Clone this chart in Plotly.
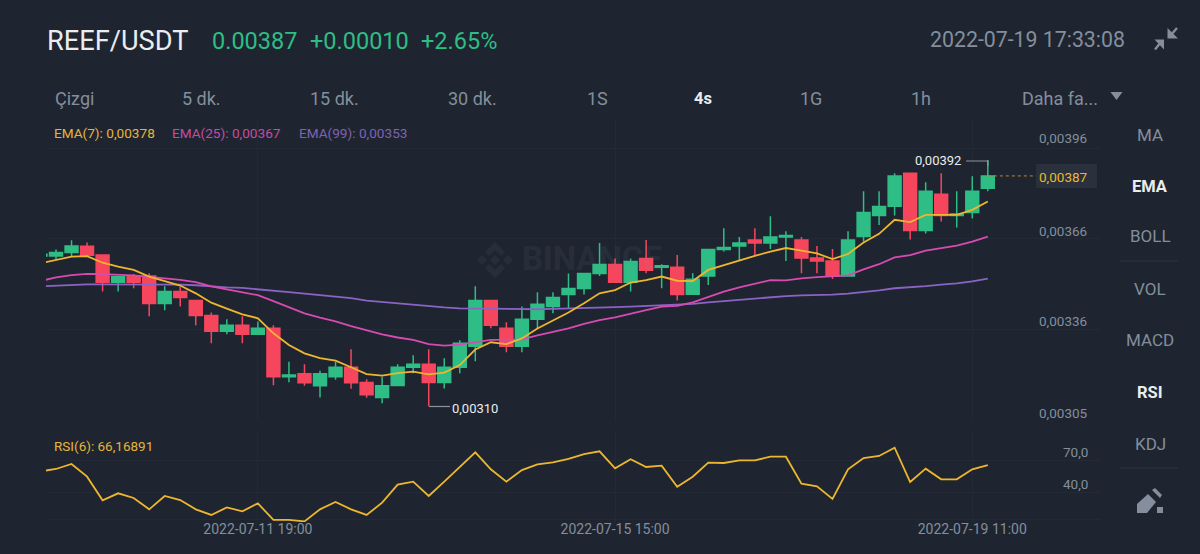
import pandas as pd
import plotly.graph_objects as go

BG = "#1e2530"
GRID = "#232a35"
GREEN = "#2ebd85"
RED = "#f6465d"
MUTED = "#848e9c"
FONT = "Roboto"
W, H = 1200, 554

# 4 hour candles, the first one is cut off by the left edge of the chart
times = pd.date_range("2022-07-09 11:00", periods=62, freq="4h")

opens = [
    0.003600, 0.003600, 0.003612, 0.003633, 0.003604, 0.003513, 0.003535, 0.003534, 0.003442, 0.003482,
    0.003452, 0.003402, 0.003350, 0.003370, 0.003340, 0.003360, 0.003198, 0.003208, 0.003168, 0.003198,
    0.003230, 0.003179, 0.003129, 0.003169, 0.003230, 0.003240, 0.003179, 0.003230, 0.003300, 0.003452,
    0.003360, 0.003300, 0.003390, 0.003432, 0.003472, 0.003492, 0.003542, 0.003572, 0.003513, 0.003592,
    0.003563, 0.003563, 0.003473, 0.003534, 0.003622, 0.003634, 0.003654, 0.003644, 0.003664, 0.003654,
    0.003594, 0.003584, 0.003534, 0.003665, 0.003735, 0.003766, 0.003876, 0.003685, 0.003806, 0.003735,
    0.003745, 0.003826,
]
highs = [
    0.003612, 0.003622, 0.003653, 0.003645, 0.003604, 0.003532, 0.003540, 0.003543, 0.003500, 0.003498,
    0.003452, 0.003412, 0.003390, 0.003400, 0.003382, 0.003370, 0.003248, 0.003240, 0.003218, 0.003248,
    0.003290, 0.003190, 0.003198, 0.003240, 0.003270, 0.003290, 0.003260, 0.003320, 0.003500, 0.003452,
    0.003380, 0.003432, 0.003480, 0.003480, 0.003542, 0.003542, 0.003644, 0.003592, 0.003592, 0.003654,
    0.003573, 0.003604, 0.003543, 0.003622, 0.003693, 0.003664, 0.003693, 0.003733, 0.003683, 0.003664,
    0.003634, 0.003624, 0.003683, 0.003816, 0.003816, 0.003876, 0.003876, 0.003846, 0.003876, 0.003816,
    0.003866, 0.003920,
]
lows = [
    0.003595, 0.003589, 0.003600, 0.003600, 0.003482, 0.003482, 0.003493, 0.003400, 0.003420, 0.003432,
    0.003370, 0.003310, 0.003340, 0.003310, 0.003340, 0.003170, 0.003180, 0.003168, 0.003129, 0.003188,
    0.003158, 0.003128, 0.003110, 0.003169, 0.003210, 0.003100, 0.003159, 0.003210, 0.003250, 0.003360,
    0.003280, 0.003280, 0.003360, 0.003410, 0.003426, 0.003472, 0.003534, 0.003513, 0.003482, 0.003543,
    0.003493, 0.003452, 0.003473, 0.003504, 0.003615, 0.003587, 0.003604, 0.003624, 0.003584, 0.003543,
    0.003543, 0.003524, 0.003534, 0.003648, 0.003704, 0.003735, 0.003655, 0.003675, 0.003715, 0.003695,
    0.003725, 0.003816,
]
closes = [
    0.003606, 0.003612, 0.003634, 0.003603, 0.003513, 0.003532, 0.003513, 0.003442, 0.003482, 0.003462,
    0.003402, 0.003350, 0.003370, 0.003340, 0.003360, 0.003198, 0.003204, 0.003178, 0.003208, 0.003230,
    0.003178, 0.003138, 0.003168, 0.003230, 0.003240, 0.003179, 0.003230, 0.003310, 0.003452, 0.003370,
    0.003300, 0.003390, 0.003440, 0.003462, 0.003492, 0.003542, 0.003572, 0.003513, 0.003582, 0.003553,
    0.003568, 0.003472, 0.003523, 0.003622, 0.003629, 0.003644, 0.003644, 0.003664, 0.003669, 0.003594,
    0.003584, 0.003534, 0.003654, 0.003745, 0.003765, 0.003867, 0.003685, 0.003816, 0.003735, 0.003740,
    0.003816, 0.003867,
]
ema7 = [
    0.003576, 0.003587, 0.003598, 0.003600, 0.003578, 0.003565, 0.003554, 0.003532, 0.003518, 0.003502,
    0.003476, 0.003445, 0.003425, 0.003406, 0.003393, 0.003343, 0.003304, 0.003276, 0.003260, 0.003252,
    0.003230, 0.003207, 0.003202, 0.003210, 0.003215, 0.003206, 0.003212, 0.003237, 0.003289, 0.003313,
    0.003307, 0.003326, 0.003359, 0.003385, 0.003412, 0.003443, 0.003476, 0.003487, 0.003512, 0.003520,
    0.003532, 0.003518, 0.003517, 0.003554, 0.003570, 0.003587, 0.003601, 0.003615, 0.003627, 0.003618,
    0.003609, 0.003590, 0.003607, 0.003645, 0.003674, 0.003721, 0.003713, 0.003737, 0.003737, 0.003737,
    0.003754, 0.003782,
]
ema25 = [
    0.003517, 0.003529, 0.003537, 0.003541, 0.003540, 0.003538, 0.003536, 0.003531, 0.003527, 0.003521,
    0.003513, 0.003499, 0.003489, 0.003479, 0.003470, 0.003450, 0.003429, 0.003409, 0.003395, 0.003383,
    0.003367, 0.003352, 0.003339, 0.003329, 0.003321, 0.003307, 0.003302, 0.003305, 0.003313, 0.003321,
    0.003321, 0.003323, 0.003336, 0.003347, 0.003359, 0.003374, 0.003387, 0.003396, 0.003409, 0.003420,
    0.003432, 0.003434, 0.003446, 0.003465, 0.003482, 0.003496, 0.003509, 0.003520, 0.003519, 0.003526,
    0.003530, 0.003534, 0.003536, 0.003556, 0.003573, 0.003596, 0.003603, 0.003618, 0.003626, 0.003635,
    0.003648, 0.003665,
]
ema99 = [
    0.003499, 0.003502, 0.003504, 0.003506, 0.003506, 0.003506, 0.003506, 0.003506, 0.003506, 0.003505,
    0.003503, 0.003499, 0.003496, 0.003494, 0.003490, 0.003486, 0.003480, 0.003475, 0.003470, 0.003466,
    0.003460, 0.003452, 0.003447, 0.003443, 0.003438, 0.003434, 0.003429, 0.003426, 0.003425, 0.003424,
    0.003423, 0.003423, 0.003423, 0.003424, 0.003425, 0.003426, 0.003429, 0.003430, 0.003432, 0.003434,
    0.003436, 0.003437, 0.003441, 0.003446, 0.003450, 0.003455, 0.003459, 0.003464, 0.003467, 0.003469,
    0.003470, 0.003472, 0.003475, 0.003480, 0.003486, 0.003493, 0.003496, 0.003500, 0.003505, 0.003509,
    0.003516, 0.003525,
]
rsi6 = [
    60.3, 62.5, 67.2, 55.3, 33.1, 39.7, 35.3, 24.7, 37.2, 33.4,
    24.7, 19.4, 26.5, 22.8, 30.3, 14.7, 14.7, 13.4, 24.7, 31.5,
    24.7, 19.4, 30.9, 47.8, 50.6, 37.2, 50.6, 64.7, 78.1, 62.2,
    50.6, 61.5, 66.9, 68.7, 71.9, 76.5, 79.1, 63.1, 71.6, 64.4,
    65.6, 45.9, 55.3, 68.4, 68.1, 70.6, 70.6, 74.0, 74.0, 48.7,
    46.2, 34.4, 62.2, 72.8, 74.7, 82.5, 50.3, 62.8, 52.8, 52.8,
    62.2, 66.2,
]

date_ticks = ["2022-07-11 19:00", "2022-07-15 15:00", "2022-07-19 11:00"]
price_grid = [0.003960, 0.003657, 0.003354, 0.003051]
price_labels = ["0,00396", "0,00366", "0,00336", "0,00305"]
rsi_grid = [70, 40, 14.7]
rsi_labels = ["70,0", "40,0"]
tabs = ["Çizgi", "5 dk.", "15 dk.", "30 dk.", "1S", "4s", "1G", "1h", "Daha fa..."]
indicators = ["MA", "EMA", "BOLL", "VOL", "MACD", "RSI", "KDJ"]


def px(x):
    return x / W


def py(y):
    return 1 - y / H


def text(x, y, s, size, color, anchor="left", bold=False):
    fig.add_annotation(
        x=px(x), y=py(y), xref="paper", yref="paper", text=f"<b>{s}</b>" if bold else s,
        showarrow=False, xanchor=anchor, yanchor="middle", borderpad=0, borderwidth=0,
        font=dict(family=FONT, size=size, color=color),
    )


def poly(points, fill=MUTED, layer="above"):
    path = "M " + " L ".join(f"{px(x):.5f},{py(y):.5f}" for x, y in points) + " Z"
    fig.add_shape(type="path", path=path, xref="paper", yref="paper", fillcolor=fill, line_width=0, layer=layer)


def seg(points, color="#8d949e", width=1.2, dash="solid"):
    path = "M " + " L ".join(f"{px(x):.5f},{py(y):.5f}" for x, y in points)
    fig.add_shape(type="path", path=path, xref="paper", yref="paper", line=dict(color=color, width=width, dash=dash))


fig = go.Figure()

fig.add_trace(go.Candlestick(
    x=times, open=opens, high=highs, low=lows, close=closes,
    increasing=dict(line=dict(color=GREEN, width=1.5), fillcolor=GREEN),
    decreasing=dict(line=dict(color=RED, width=1.5), fillcolor=RED),
    whiskerwidth=0, hoverinfo="skip",
))
for vals, col in [(ema99, "#8b63c4"), (ema25, "#d74bb0"), (ema7, "#eeb62e")]:
    fig.add_trace(go.Scatter(x=times, y=vals, mode="lines", line=dict(color=col, width=1.8), hoverinfo="skip"))
fig.add_trace(go.Scatter(x=times, y=rsi6, mode="lines", line=dict(color="#eeb62e", width=1.8),
                         xaxis="x2", yaxis="y2", hoverinfo="skip"))

x_range = ["2022-07-09 12:25:26", "2022-07-20 19:54:00"]
fig.update_layout(
    width=W, height=H, margin=dict(l=0, r=0, t=0, b=0), showlegend=False,
    paper_bgcolor=BG, plot_bgcolor=BG, boxgap=0.17, boxgroupgap=0,
    xaxis=dict(domain=[px(46), px(1100)], range=x_range, rangeslider=dict(visible=False),
               tickvals=date_ticks, showticklabels=False, showgrid=True, gridcolor=GRID, gridwidth=1, zeroline=False),
    yaxis=dict(domain=[py(421), py(118)], range=[0.0030509, 0.0040599], tickvals=price_grid,
               showticklabels=False, showgrid=True, gridcolor=GRID, gridwidth=1, zeroline=False),
    xaxis2=dict(domain=[px(46), px(1100)], range=x_range, anchor="y2", tickvals=date_ticks, ticktext=date_ticks,
                showgrid=True, gridcolor=GRID, gridwidth=1, zeroline=False, ticklen=0, color=MUTED,
                ticklabelstandoff=-3, tickfont=dict(family=FONT, size=14, color=MUTED)),
    yaxis2=dict(domain=[py(522), py(430)], range=[12.8, 99.05], anchor="x2", tickvals=rsi_grid,
                showticklabels=False, showgrid=True, gridcolor=GRID, gridwidth=1, zeroline=False),
)

# header
text(47, 41, "REEF/USDT", 27.2, "#eaecef")
text(212, 41, "0.00387", 23.5, GREEN)
text(310, 41, "+0.00010", 23.5, GREEN)
text(421, 41, "+2.65%", 23.5, GREEN)
text(930, 39, "2022-07-19 17:33:08", 21.3, MUTED)

# interval tabs
for s, x in zip(tabs, [55, 182, 310, 448, 587, 694, 800, 911, 1022]):
    if s == "4s":
        text(x, 99, s, 16.5, "#eaecef", bold=True)
    else:
        text(x, 99, s, 18, MUTED)
poly([(1110.5, 92), (1122.5, 92), (1116.5, 100)])

# indicator column
for s, y in zip(indicators, [135, 186, 236, 289, 340, 392, 444]):
    if s in ("EMA", "RSI"):
        text(1150, y, s, 16.5, "#eaecef", anchor="center", bold=True)
    else:
        text(1150, y, s, 17, MUTED, anchor="center")
seg([(1120, 261), (1178, 261)], color="#2c3440", width=1.2)
seg([(1120, 468), (1178, 468)], color="#2c3440", width=1.2)

# compress icon
poly([(1167.5, 38.5), (1167.5, 28), (1178, 38.5)])
poly([(1164, 39.5), (1154.5, 39.5), (1164, 49.5)])
seg([(1170, 36), (1177, 28)], color=MUTED, width=2.4)
seg([(1161, 42), (1155, 49.5)], color=MUTED, width=2.4)

# pencil icon
poly([(1148, 494), (1156, 502), (1147, 513), (1137, 513), (1137, 504)])
poly([(1152, 490), (1155, 488), (1162, 495), (1160, 498)])
poly([(1157, 507), (1163, 507), (1163, 513), (1157, 513)])

# watermark
WM = "#272e39"
poly([(495, 242), (505, 252), (501, 256), (495, 250), (489, 256), (485, 252)], fill=WM, layer="below")
poly([(495, 278), (505, 268), (501, 264), (495, 270), (489, 264), (485, 268)], fill=WM, layer="below")
poly([(482, 255), (487, 260), (482, 265), (477, 260)], fill=WM, layer="below")
poly([(508, 255), (513, 260), (508, 265), (503, 260)], fill=WM, layer="below")
poly([(495, 255), (500, 260), (495, 265), (490, 260)], fill=WM, layer="below")
text(522, 258, "BINANCE", 33, "rgba(132,142,156,0.1)", bold=True)

# indicator readouts
text(54, 133, "EMA(7): 0,00378", 13.6, "#e5b53a")
text(172, 133, "EMA(25): 0,00367", 13.6, "#c84aa2")
text(299, 133, "EMA(99): 0,00353", 13.6, "#7f62b5")
text(54, 446, "RSI(6): 66,16891", 13.5, "#e5b53a")

# axis labels sit above their grid lines
for s, y in zip(price_labels, [138, 231, 321, 413]):
    text(1039, y, s, 13.5, MUTED)
for s, y in zip(rsi_labels, [452, 484]):
    text(1063, y, s, 13.5, MUTED)

# last price tag
poly([(1036, 164), (1097, 164), (1097, 188), (1036, 188)], fill="#2a313c", layer="below")
fig.add_shape(type="line", xref="x", yref="y", x0=times[-1], x1="2022-07-20 03:25:00", y0=closes[-1], y1=closes[-1],
              line=dict(color="#b8893a", width=1, dash="dot"))
text(1039, 177, "0,00387", 13.5, "#eeb62e")

# high / low callouts
seg([(966, 161), (988, 161), (988, 166)])
text(915, 160, "0,00392", 13, "#eaecef")
seg([(429, 406.5), (450, 406.5)])
text(452, 408, "0,00310", 13, "#eaecef")

fig.write_html("out.html", post_script="document.body.style.margin='0';", config=dict(displayModeBar=False))
